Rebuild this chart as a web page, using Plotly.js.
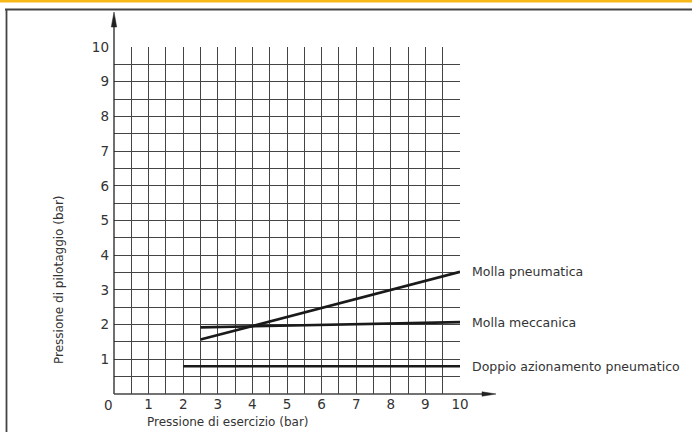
<!DOCTYPE html>
<html>
<head>
<meta charset="utf-8">
<script src="https://cdn.plot.ly/plotly-3.0.1.min.js"></script>
<style>
html,body{margin:0;padding:0;background:#fff;}
#chart{width:692px;height:432px;}
</style>
</head>
<body>
<div id="chart"></div>
<script>
// ---- data ----
const seriesNames = ["Molla pneumatica", "Molla meccanica", "Doppio azionamento pneumatico"];
const pneumaticaX = [2.5, 10];
const pneumaticaY = [1.57, 3.52];
const meccanicaX = [2.5, 10];
const meccanicaY = [1.92, 2.07];
const doppioX = [2, 10];
const doppioY = [0.8, 0.8];
const tickValues = [1, 2, 3, 4, 5, 6, 7, 8, 9, 10];
const tickLabels = ["1", "2", "3", "4", "5", "6", "7", "8", "9", "10"];
const originLabel = "0";
const xTitle = "Pressione di esercizio (bar)";
const yTitle = "Pressione di pilotaggio (bar)";

// ---- layout geometry ----
const W = 692, H = 432;
const M = {l: 114, r: 232, t: 47, b: 38};
const pw = W - M.l - M.r, ph = H - M.t - M.b;
const px = v => (v - M.l) / pw;          // pixel x -> paper
const py = v => (H - M.b - v) / ph;      // pixel y -> paper

const FONT = "DejaVu Sans ExtraLight, DejaVu Sans, sans-serif";
const TXT = "#333";
const lineStyle = {color: "#1a1a1a", width: 2.6};

const traces = [
  {x: pneumaticaX, y: pneumaticaY, name: seriesNames[0], mode: "lines", line: lineStyle},
  {x: meccanicaX, y: meccanicaY, name: seriesNames[1], mode: "lines", line: lineStyle},
  {x: doppioX, y: doppioY, name: seriesNames[2], mode: "lines", line: lineStyle}
];

const labelAnn = traces.map(t => ({
  xref: "paper", yref: "y", x: px(470), y: t.y[t.y.length - 1],
  text: t.name, showarrow: false, xanchor: "left", yanchor: "middle",
  font: {family: FONT, size: 12.5, color: TXT}
}));

const layout = {
  width: W, height: H,
  margin: M,
  paper_bgcolor: "#fff", plot_bgcolor: "#fff",
  showlegend: false,
  xaxis: {
    range: [0, 10], tickvals: tickValues, ticktext: tickLabels,
    showgrid: true, gridcolor: "#444", gridwidth: 1,
    minor: {dtick: 0.5, showgrid: true, gridcolor: "#444", gridwidth: 1},
    zeroline: false, showline: false, ticks: "",
    tickfont: {family: FONT, size: 13.5, color: TXT},
    fixedrange: true
  },
  yaxis: {
    range: [0, 10], tickvals: tickValues, ticktext: tickLabels,
    showgrid: true, gridcolor: "#444", gridwidth: 1,
    minor: {dtick: 0.5, showgrid: true, gridcolor: "#444", gridwidth: 1},
    zeroline: false, showline: false, ticks: "", ticklabelstandoff: 4,
    tickfont: {family: FONT, size: 13.5, color: TXT},
    fixedrange: true
  },
  annotations: labelAnn.concat([
    {xref: "x", yref: "y", x: 0, y: 0, text: originLabel, showarrow: false,
     xanchor: "center", yanchor: "top", xshift: -6, yshift: -1,
     font: {family: FONT, size: 13.5, color: TXT}},
    {xref: "paper", yref: "paper", x: px(228), y: py(422), text: xTitle, showarrow: false,
     xanchor: "center", yanchor: "middle", font: {family: FONT, size: 12, color: TXT}},
    {xref: "paper", yref: "paper", x: px(59), y: py(280), text: yTitle, showarrow: false,
     textangle: -90, xanchor: "center", yanchor: "middle", font: {family: FONT, size: 12, color: TXT}}
  ]),
  shapes: [
    // orange top bar
    {type: "rect", xref: "paper", yref: "paper", x0: px(0), x1: px(W), y0: py(2.5), y1: py(0),
     fillcolor: "#F7B716", line: {width: 0}, layer: "above"},
    // frame: top and left
    {type: "line", xref: "paper", yref: "paper", x0: px(5), x1: px(W), y0: py(9.5), y1: py(9.5),
     line: {color: "#444", width: 1.8}},
    {type: "line", xref: "paper", yref: "paper", x0: px(6.5), x1: px(6.5), y0: py(9), y1: py(H),
     line: {color: "#444", width: 1.8}},
    // axes
    {type: "line", xref: "paper", yref: "paper", x0: 0, x1: 0, y0: 0, y1: py(24),
     line: {color: "#222", width: 1.3}},
    {type: "line", xref: "paper", yref: "paper", x0: 0, x1: px(484), y0: 0, y1: 0,
     line: {color: "#444", width: 1.3}},
    // arrow heads
    {type: "path", xref: "paper", yref: "paper",
     path: `M ${px(114)} ${py(12)} L ${px(111.3)} ${py(27)} L ${px(116.7)} ${py(27)} Z`,
     fillcolor: "#222", line: {color: "#222", width: 0.5}},
    {type: "path", xref: "paper", yref: "paper",
     path: `M ${px(496)} ${py(394)} L ${px(482)} ${py(391.8)} L ${px(482)} ${py(396.2)} Z`,
     fillcolor: "#222", line: {color: "#222", width: 0.5}}
  ]
};

Plotly.newPlot("chart", traces, layout, {displayModeBar: false, staticPlot: true});
</script>
</body>
</html>
